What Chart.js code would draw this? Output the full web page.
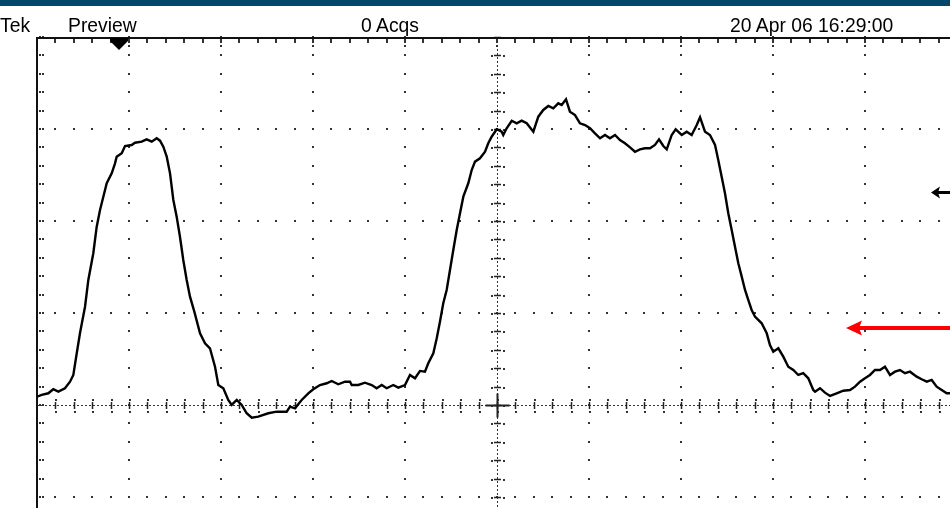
<!DOCTYPE html>
<html>
<head>
<meta charset="utf-8">
<title>Tek Preview</title>
<script src="https://cdn.jsdelivr.net/npm/chart.js@4.4.1/dist/chart.umd.min.js"></script>
<style>
  html, body { margin: 0; padding: 0; background: #fff; }
  #scope { position: relative; width: 950px; height: 508px; overflow: hidden; background: #fff; }
  #topbar { position: absolute; left: 0; top: 0; width: 950px; height: 6px; background: #03476d; }
  .hdr {
    position: absolute; top: 14px; margin: 0;
    font-family: "Liberation Sans", Arial, sans-serif; font-size: 21px; line-height: 21px;
    color: #000; white-space: nowrap;
    transform: scaleX(0.92); transform-origin: left top;
  }
  canvas { position: absolute; left: 0; top: 0; }
</style>
</head>
<body>
<div id="scope">
  <div id="topbar"></div>
  <canvas id="scopeChart" width="950" height="508"></canvas>
  <div class="hdr" style="left:0px">Tek</div>
  <div class="hdr" style="left:68px">Preview</div>
  <div class="hdr" style="left:361px">0 Acqs</div>
  <div class="hdr" style="left:730px">20 Apr 06 16:29:00</div>
</div>
<script>
// trace samples, in graticule divisions (x: time div from left edge, y: div above centre)
const traceTime = [
  0.000,0.051,0.123,0.177,0.232,0.304,0.359,0.395,0.432,0.467,0.522,0.558,0.612,0.649,0.685,0.721,0.758,0.812,0.848,0.866,
  0.921,0.957,1.029,1.065,1.138,1.192,1.247,1.301,1.337,1.373,1.410,1.446,1.482,1.518,1.554,1.590,1.627,1.663,1.710,
  1.772,1.826,1.880,1.935,1.971,2.025,2.079,2.116,2.171,2.225,2.279,2.334,2.405,2.514,2.605,2.714,2.750,2.804,2.877,2.949,
  3.003,3.076,3.149,3.203,3.275,3.348,3.402,
  3.421,3.492,3.565,3.638,3.692,3.747,3.801,3.873,3.927,4.000,4.054,4.109,4.163,4.217,4.253,4.308,4.345,4.380,4.416,4.453,
  4.489,4.525,4.562,4.598,4.634,4.688,4.725,4.761,4.815,4.870,4.905,4.942,4.997,5.051,
  5.068,5.105,5.160,5.214,5.268,5.323,5.395,5.449,5.503,5.558,5.612,5.666,5.703,5.750,5.793,5.848,5.902,5.957,6.011,6.065,
  6.120,6.174,6.228,6.283,6.337,6.391,6.446,6.500,6.554,6.609,6.663,6.717,
  6.761,6.808,6.845,6.899,6.942,7.008,7.062,7.116,7.171,7.207,7.261,7.315,7.370,7.405,7.442,7.478,7.514,7.551,7.587,7.623,
  7.660,7.696,7.732,7.768,7.804,7.877,7.932,7.967,8.003,8.058,8.112,8.166,8.221,8.275,8.329,8.384,8.438,
  8.457,8.511,8.565,8.620,8.692,8.764,8.837,8.891,8.946,9.000,9.054,9.109,9.163,9.217,9.272,9.326,9.380,9.435,9.489,9.562,
  9.616,9.671,9.725,9.779,9.834,9.888,9.924
];
const traceVolts = [
  0.090,0.109,0.127,0.171,0.145,0.182,0.253,0.326,0.562,0.779,1.068,1.359,1.649,1.938,2.120,2.264,2.410,2.518,2.627,2.699,
  2.736,2.815,2.826,2.851,2.862,2.888,2.862,2.899,2.873,2.808,2.699,2.518,2.228,2.047,1.829,1.576,1.359,1.177,1.014,
  0.779,0.671,0.616,0.416,0.217,0.182,0.054,0.000,0.054,0.000,-0.090,-0.138,-0.127,-0.090,-0.073,-0.073,-0.018,-0.036,0.054,0.127,
  0.171,0.217,0.236,0.261,0.225,0.253,0.253,
  0.217,0.217,0.242,0.217,0.182,0.217,0.182,0.217,0.188,0.217,0.326,0.290,0.370,0.362,0.453,0.562,0.725,0.905,1.105,1.250,
  1.467,1.685,1.902,2.084,2.264,2.410,2.554,2.645,2.682,2.753,2.845,2.916,2.997,2.971,
  2.935,3.008,3.090,3.062,3.090,3.062,2.971,3.134,3.207,3.250,3.225,3.279,3.261,3.323,3.188,3.152,3.062,3.043,3.008,2.953,
  2.899,2.935,2.899,2.935,2.880,2.845,2.801,2.753,2.779,2.790,2.790,2.826,
  2.888,2.815,2.779,2.935,2.997,2.935,2.971,2.935,3.043,3.127,2.971,2.935,2.826,2.663,2.482,2.301,2.084,1.902,1.721,1.540,
  1.395,1.250,1.141,1.033,0.960,0.888,0.779,0.652,0.579,0.616,0.525,0.416,0.380,0.326,0.345,0.290,0.163,
  0.145,0.182,0.134,0.098,0.127,0.155,0.163,0.199,0.253,0.290,0.326,0.380,0.380,0.416,0.326,0.362,0.380,0.345,0.362,0.308,
  0.279,0.253,0.272,0.199,0.163,0.127,0.127
];

// markers (divisions)
const triggerPos = 0.891;    // trigger position marker on top edge
const triggerLevel = 2.318;  // small black arrow at right edge
const refLevel = 0.837;      // red arrow

// visible window of the graticule (screen is cropped on right and bottom)
const xRange = [0, 9.924];
const yRange = [-1.12, 4];

// graticule: dotted major lines, dashed centre lines with minor ticks, frame
const graticule = {
  id: 'graticule',
  beforeDatasetsDraw(chart) {
    const ctx = chart.ctx, x = chart.scales.x, y = chart.scales.y, a = chart.chartArea;
    const dot = (px, py) => ctx.fillRect(Math.round(px) - 1, Math.round(py) - 1, 2, 2);
    ctx.save();
    ctx.fillStyle = '#333';

    // major vertical lines as dots at each minor division
    for (let i = 1; i <= 10; i++) {
      if (i === 5) continue;
      const px = x.getPixelForValue(i);
      for (let m = -6; m <= 20; m++) dot(px, y.getPixelForValue(m / 5));
    }
    // major horizontal lines
    for (let k = -1; k <= 3; k++) {
      if (k === 0) continue;
      const py = y.getPixelForValue(k);
      for (let m = 1; m <= 50; m++) dot(x.getPixelForValue(m / 5), py);
    }

    // centre lines
    const cx = Math.round(x.getPixelForValue(5)) + 0.5;
    const cy = Math.round(y.getPixelForValue(0)) + 0.5;
    ctx.strokeStyle = '#333';
    ctx.lineWidth = 1;
    ctx.setLineDash([2, 2]);
    ctx.beginPath();
    ctx.moveTo(a.left, cy); ctx.lineTo(a.right, cy);
    ctx.moveTo(cx, a.top); ctx.lineTo(cx, a.bottom);
    ctx.stroke();
    ctx.setLineDash([]);

    // minor ticks on centre lines
    ctx.strokeStyle = '#222';
    ctx.lineWidth = 1.5;
    ctx.beginPath();
    for (let m = 1; m <= 50; m++) {
      const px = Math.round(x.getPixelForValue(m / 5)) + 0.5;
      ctx.moveTo(px, cy - 3.5); ctx.lineTo(px, cy + 3.5);
      dot(px, cy - 6); dot(px, cy + 6);
    }
    for (let m = -6; m <= 20; m++) {
      const py = Math.round(y.getPixelForValue(m / 5)) + 0.5;
      ctx.moveTo(cx - 3.5, py); ctx.lineTo(cx + 3.5, py);
      dot(cx - 6, py); dot(cx + 6, py);
    }
    ctx.stroke();

    // centre cross
    ctx.strokeStyle = '#222';
    ctx.lineWidth = 2;
    ctx.beginPath();
    ctx.moveTo(cx - 12, cy); ctx.lineTo(cx + 12, cy);
    ctx.moveTo(cx, cy - 12); ctx.lineTo(cx, cy + 12);
    ctx.stroke();

    // left edge ticks
    for (let m = -6; m <= 20; m++) {
      const py = y.getPixelForValue(m / 5);
      dot(a.left + 3, py); dot(a.left + 6, py);
    }
    // top edge ticks
    for (let m = 1; m <= 50; m++) {
      const px = Math.round(x.getPixelForValue(m / 5));
      ctx.fillRect(px - 1, a.top + 2, 2, 4);
      if (m % 5 === 0) dot(px, a.top + 9);
    }

    // frame: left and top edges
    ctx.fillStyle = '#111';
    ctx.fillRect(a.left - 1, a.top, 2, a.bottom - a.top);
    ctx.fillRect(a.left - 1, a.top, a.right - a.left + 1, 2);
    ctx.restore();
  },
  afterDatasetsDraw(chart) {
    const ctx = chart.ctx, x = chart.scales.x, y = chart.scales.y, a = chart.chartArea;
    ctx.save();
    // trigger position marker
    const tx = Math.round(x.getPixelForValue(triggerPos));
    ctx.fillStyle = '#000';
    ctx.beginPath();
    ctx.moveTo(tx - 9, a.top + 1); ctx.lineTo(tx + 9, a.top + 1);
    ctx.lineTo(tx + 9, a.top + 4); ctx.lineTo(tx, a.top + 13);
    ctx.lineTo(tx - 9, a.top + 4); ctx.closePath();
    ctx.fill();

    // trigger level arrow (black, right edge)
    const ty = Math.round(y.getPixelForValue(triggerLevel));
    ctx.fillRect(937, ty - 1, a.right - 937, 3);
    ctx.beginPath();
    ctx.moveTo(931, ty + 0.5); ctx.lineTo(940, ty - 5.5); ctx.lineTo(938, ty + 0.5); ctx.lineTo(940, ty + 6.5); ctx.closePath();
    ctx.fill();

    // red reference arrow
    const ry = Math.round(y.getPixelForValue(refLevel));
    ctx.fillStyle = '#ff0000';
    ctx.fillRect(858, ry - 2, a.right - 858, 4);
    ctx.beginPath();
    ctx.moveTo(846, ry); ctx.lineTo(862, ry - 7.5); ctx.lineTo(859, ry); ctx.lineTo(862, ry + 7.5); ctx.closePath();
    ctx.fill();
    ctx.restore();
  }
};

const tracePoints = traceTime.map((t, i) => ({ x: t, y: traceVolts[i] }));

const ctx = document.getElementById('scopeChart').getContext('2d');
const scopeChart = new Chart(ctx, {
  type: 'line',
  data: {
    datasets: [{
      label: 'CH1',
      data: tracePoints,
      borderColor: '#000',
      borderWidth: 2.4,
      pointRadius: 0,
      tension: 0,
      fill: false
    }]
  },
  options: {
    responsive: false,
    animation: false,
    layout: { padding: { left: 37, top: 37, right: 0, bottom: 0 } },
    plugins: { legend: { display: false }, tooltip: { enabled: false } },
    scales: {
      x: { type: 'linear', min: xRange[0], max: xRange[1], display: false },
      y: { type: 'linear', min: yRange[0], max: yRange[1], display: false }
    }
  },
  plugins: [graticule]
});
</script>
</body>
</html>
